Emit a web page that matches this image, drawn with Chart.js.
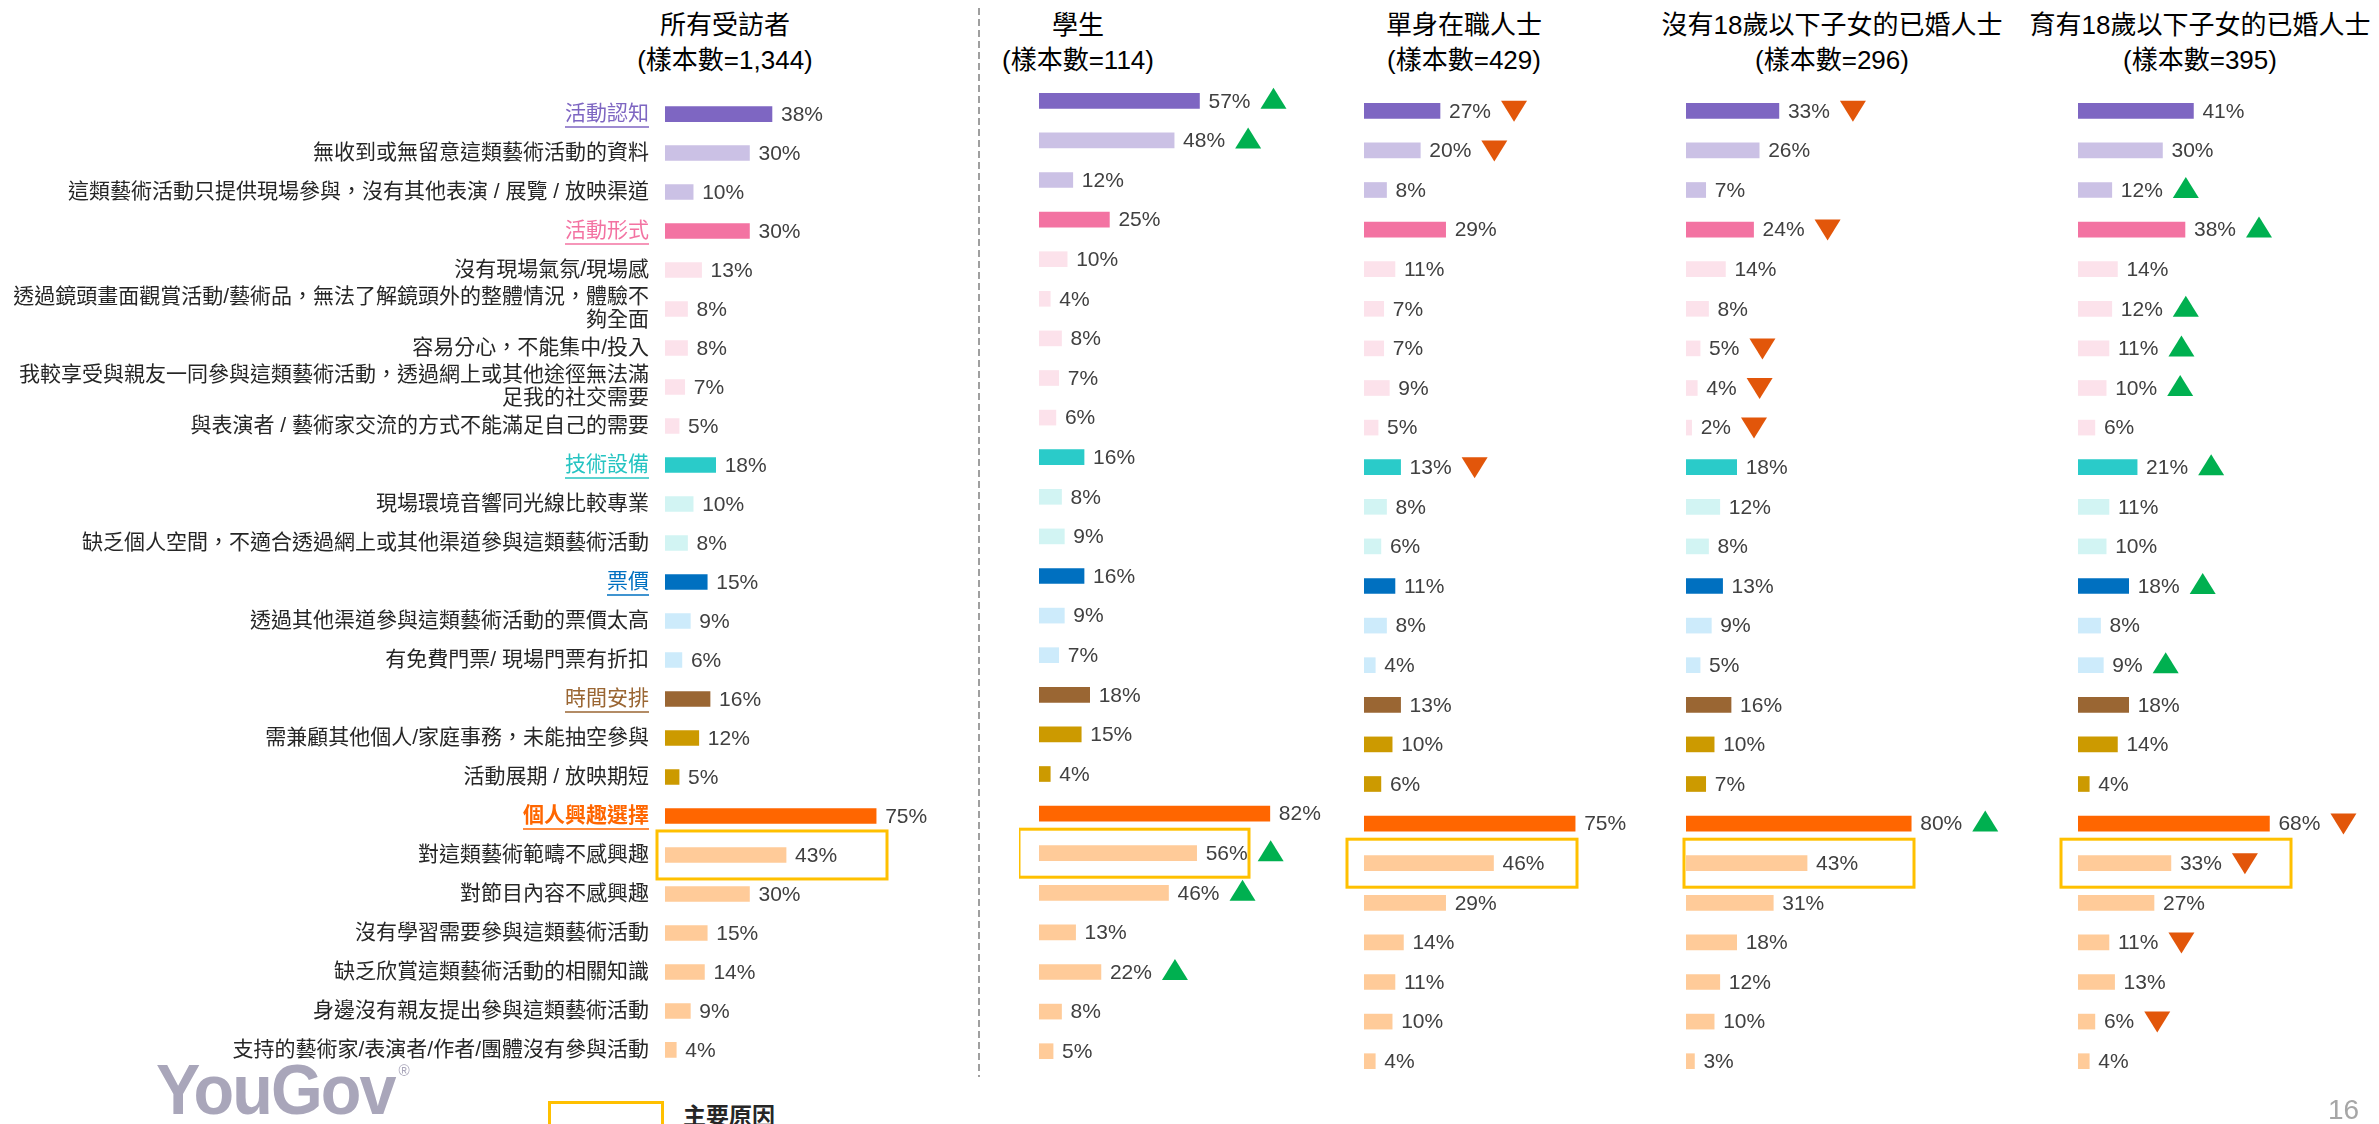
<!DOCTYPE html>
<html>
<head>
<meta charset="utf-8">
<title>不參與原因</title>
<script src="https://cdn.jsdelivr.net/npm/chart.js@4.4.1/dist/chart.umd.min.js"></script>
<style>
  html, body { margin: 0; padding: 0; background: #fff; }
  body {
    width: 2379px; height: 1124px; position: relative; overflow: hidden;
    font-family: "Liberation Sans", Arial, "Noto Sans CJK TC", sans-serif;
  }
  .wrap { position: absolute; }
  .head {
    position: absolute; top: 8px; width: 460px; margin-left: -230px;
    text-align: center; font-size: 26px; line-height: 35px; color: #000; white-space: nowrap;
  }
  #logo {
    position: absolute; left: 156px; top: 1050px; font-size: 70px; font-weight: bold;
    color: #a9a6ba; letter-spacing: -2px; transform: scaleX(0.95); transform-origin: left top;
  }
  #logo sup { font-size: 16px; font-weight: normal; vertical-align: top; position: relative; top: 12px; margin-left: 4px; }
  #legendBox { position: absolute; left: 548px; top: 1101px; width: 110px; height: 40px; border: 3px solid #ffc000; }
  #legendText { position: absolute; left: 683px; top: 1097px; font-size: 23px; font-weight: bold; color: #262626; font-family: "Noto Sans CJK TC", sans-serif; }
  #pageNo { position: absolute; left: 2328px; top: 1094px; font-size: 28px; color: #a6a6a6; }
</style>
</head>
<body>

<div id="heads"></div>

<svg class="wrap" style="left:0;top:0" width="2379" height="1124">
  <line x1="979" y1="8" x2="979" y2="1077" stroke="#808080" stroke-width="1.5" stroke-dasharray="7 4"/>
</svg>

<div class="wrap" id="w0"><canvas id="c0"></canvas></div>
<div class="wrap" id="w1"><canvas id="c1"></canvas></div>
<div class="wrap" id="w2"><canvas id="c2"></canvas></div>
<div class="wrap" id="w3"><canvas id="c3"></canvas></div>
<div class="wrap" id="w4"><canvas id="c4"></canvas></div>

<div id="logo">YouGov<sup>®</sup></div>
<div id="legendBox"></div>
<div id="legendText">主要原因</div>
<div id="pageNo">16</div>

<script>
// 類別
const categories = [
    '活動認知',
    '無收到或無留意這類藝術活動的資料',
    '這類藝術活動只提供現場參與，沒有其他表演 / 展覽 / 放映渠道',
    '活動形式',
    '沒有現場氣氛/現場感',
    ['透過鏡頭畫面觀賞活動/藝術品，無法了解鏡頭外的整體情況，體驗不', '夠全面'],
    '容易分心，不能集中/投入',
    ['我較享受與親友一同參與這類藝術活動，透過網上或其他途徑無法滿', '足我的社交需要'],
    '與表演者 / 藝術家交流的方式不能滿足自己的需要',
    '技術設備',
    '現場環境音響同光線比較專業',
    '缺乏個人空間，不適合透過網上或其他渠道參與這類藝術活動',
    '票價',
    '透過其他渠道參與這類藝術活動的票價太高',
    '有免費門票/ 現場門票有折扣',
    '時間安排',
    '需兼顧其他個人/家庭事務，未能抽空參與',
    '活動展期 / 放映期短',
    '個人興趣選擇',
    '對這類藝術範疇不感興趣',
    '對節目內容不感興趣',
    '沒有學習需要參與這類藝術活動',
    '缺乏欣賞這類藝術活動的相關知識',
    '身邊沒有親友提出參與這類藝術活動',
    '支持的藝術家/表演者/作者/團體沒有參與活動'
];

const groupNames = ['所有受訪者', '學生', '單身在職人士', '沒有18歲以下子女的已婚人士', '育有18歲以下子女的已婚人士'];
const sampleSizes = ['1,344', '114', '429', '296', '395'];

// 百分比 (%)
const allRespondents  = [38, 30, 10, 30, 13, 8, 8, 7, 5, 18, 10, 8, 15, 9, 6, 16, 12, 5, 75, 43, 30, 15, 14, 9, 4];
const students        = [57, 48, 12, 25, 10, 4, 8, 7, 6, 16, 8, 9, 16, 9, 7, 18, 15, 4, 82, 56, 46, 13, 22, 8, 5];
const singleWorking   = [27, 20, 8, 29, 11, 7, 7, 9, 5, 13, 8, 6, 11, 8, 4, 13, 10, 6, 75, 46, 29, 14, 11, 10, 4];
const marriedNoKids   = [33, 26, 7, 24, 14, 8, 5, 4, 2, 18, 12, 8, 13, 9, 5, 16, 10, 7, 80, 43, 31, 18, 12, 10, 3];
const marriedWithKids = [41, 30, 12, 38, 14, 12, 11, 10, 6, 21, 11, 10, 18, 8, 9, 18, 14, 4, 68, 33, 27, 11, 13, 6, 4];

// 顯著差異: 1 = 高於整體, -1 = 低於整體
const sigAll          = [0, 0, 0, 0, 0, 0, 0, 0, 0, 0, 0, 0, 0, 0, 0, 0, 0, 0, 0, 0, 0, 0, 0, 0, 0];
const sigStudents     = [1, 1, 0, 0, 0, 0, 0, 0, 0, 0, 0, 0, 0, 0, 0, 0, 0, 0, 0, 1, 1, 0, 1, 0, 0];
const sigSingle       = [-1, -1, 0, 0, 0, 0, 0, 0, 0, -1, 0, 0, 0, 0, 0, 0, 0, 0, 0, 0, 0, 0, 0, 0, 0];
const sigMarriedNo    = [-1, 0, 0, -1, 0, 0, -1, -1, -1, 0, 0, 0, 0, 0, 0, 0, 0, 0, 1, 0, 0, 0, 0, 0, 0];
const sigMarriedWith  = [0, 0, 1, 1, 0, 1, 1, 1, 0, 1, 0, 0, 1, 0, 1, 0, 0, 0, -1, -1, 0, -1, 0, -1, 0];

const headingRows = [0, 3, 9, 12, 15, 18];
const keyReasonRow = 19;

// 樣式
const FONT = '"Liberation Sans", Arial, "Noto Sans CJK TC", sans-serif';
const rowColors = [
    '#7e66c2', '#cbc1e5', '#cbc1e5',
    '#f373a2', '#fce2eb', '#fce2eb', '#fce2eb', '#fce2eb', '#fce2eb',
    '#2acbc9', '#d2f4f3', '#d2f4f3',
    '#0070c0', '#cdebfb', '#cdebfb',
    '#9a6633', '#cc9a00', '#cc9a00',
    '#ff6600', '#ffcb99', '#ffcb99', '#ffcb99', '#ffcb99', '#ffcb99', '#ffcb99'
];
const headingColors = { 0: '#7e66c2', 3: '#f373a2', 9: '#26c4c2', 12: '#0070c0', 15: '#9a6633', 18: '#ff6600' };
const UP = '#00b050', DOWN = '#e2560a';

const PX_PER_PCT = 2.815;
const AREA_W = 300;
const ROWS_H = 990;
const PAD = 20;

const panels = [
    { values: allRespondents,  sig: sigAll,         barLeft: 665,  top: 87, head: 725,  boxOff: -8 },
    { values: students,        sig: sigStudents,    barLeft: 1039, top: 81, head: 1078, boxOff: -20 },
    { values: singleWorking,   sig: sigSingle,      barLeft: 1364, top: 91, head: 1464, boxOff: -17 },
    { values: marriedNoKids,   sig: sigMarriedNo,   barLeft: 1686, top: 91, head: 1832, boxOff: -2 },
    { values: marriedWithKids, sig: sigMarriedWith, barLeft: 2078, top: 91, head: 2200, boxOff: -17 }
];

// 標題
const heads = document.getElementById('heads');
panels.forEach((p, i) => {
    const d = document.createElement('div');
    d.className = 'head';
    d.style.left = p.head + 'px';
    d.innerHTML = groupNames[i] + '<br>(樣本數=' + sampleSizes[i] + ')';
    heads.appendChild(d);
});

function labelPlugin(sig, boxOff) {
    return {
        id: 'labels',
        afterDatasetsDraw(chart) {
            const ctx = chart.ctx;
            const meta = chart.getDatasetMeta(0);
            const vals = chart.data.datasets[0].data;
            ctx.save();
            ctx.font = '21px ' + FONT;
            ctx.textBaseline = 'middle';
            ctx.textAlign = 'left';
            meta.data.forEach((bar, i) => {
                const txt = vals[i] + '%';
                const x = bar.x + 9;
                ctx.fillStyle = '#404040';
                ctx.fillText(txt, x, bar.y + 1);
                if (sig[i]) {
                    const tx = x + ctx.measureText(txt).width + 10;
                    ctx.beginPath();
                    if (sig[i] > 0) {
                        ctx.moveTo(tx, bar.y + 8);
                        ctx.lineTo(tx + 13, bar.y - 13);
                        ctx.lineTo(tx + 26, bar.y + 8);
                        ctx.fillStyle = UP;
                    } else {
                        ctx.moveTo(tx, bar.y - 10);
                        ctx.lineTo(tx + 26, bar.y - 10);
                        ctx.lineTo(tx + 13, bar.y + 11);
                        ctx.fillStyle = DOWN;
                    }
                    ctx.closePath();
                    ctx.fill();
                }
            });
            // 主要原因框
            const kb = meta.data[keyReasonRow];
            ctx.strokeStyle = '#ffc000';
            ctx.lineWidth = 3;
            ctx.strokeRect(chart.chartArea.left + boxOff, kb.y - 24, 230, 48);
            ctx.restore();
        }
    };
}

const underlinePlugin = {
    id: 'underline',
    afterDraw(chart) {
        const ctx = chart.ctx;
        const scale = chart.scales.y;
        ctx.save();
        headingRows.forEach(i => {
            ctx.font = (i === 18 ? 'bold ' : '') + '21px ' + FONT;
            const y = scale.getPixelForTick(i);
            const w = ctx.measureText(categories[i]).width;
            const xr = chart.chartArea.left - 16;
            ctx.strokeStyle = headingColors[i];
            ctx.lineWidth = 1.5;
            ctx.beginPath();
            ctx.moveTo(xr - w, y + 13);
            ctx.lineTo(xr, y + 13);
            ctx.stroke();
        });
        ctx.restore();
    }
};

panels.forEach((p, i) => {
    const first = i === 0;
    const padLeft = first ? 0 : PAD;
    const padRight = first ? 0 : (i === 4 ? 0 : 30);
    const w = document.getElementById('w' + i);
    const left = first ? 0 : p.barLeft - PAD;
    const width = first ? p.barLeft + AREA_W : PAD + AREA_W + padRight;
    w.style.left = left + 'px';
    w.style.top = (p.top - PAD) + 'px';
    w.style.width = width + 'px';
    w.style.height = (ROWS_H + 2 * PAD) + 'px';

    const plugins = [labelPlugin(p.sig, p.boxOff)];
    if (first) plugins.push(underlinePlugin);

    new Chart(document.getElementById('c' + i), {
        type: 'bar',
        data: {
            labels: categories,
            datasets: [{
                data: p.values,
                backgroundColor: rowColors,
                borderWidth: 0,
                barThickness: 15
            }]
        },
        options: {
            indexAxis: 'y',
            responsive: true,
            maintainAspectRatio: false,
            animation: false,
            devicePixelRatio: 1,
            layout: { padding: { top: PAD, bottom: PAD, left: padLeft, right: padRight } },
            plugins: { legend: { display: false }, tooltip: { enabled: false } },
            scales: {
                x: { display: false, min: 0, max: AREA_W / PX_PER_PCT },
                y: first ? {
                    display: true,
                    grid: { display: false, drawTicks: false },
                    border: { display: false },
                    afterFit: function(scale) { scale.width = p.barLeft; },
                    ticks: {
                        autoSkip: false,
                        padding: 16,
                        color: function(c) { return headingColors[c.index] || '#262626'; },
                        font: function(c) {
                            return { size: 21, family: FONT, lineHeight: 1.1, weight: c.index === 18 ? 'bold' : 'normal' };
                        }
                    }
                } : { display: false }
            }
        },
        plugins: plugins
    });
});
</script>
</body>
</html>
